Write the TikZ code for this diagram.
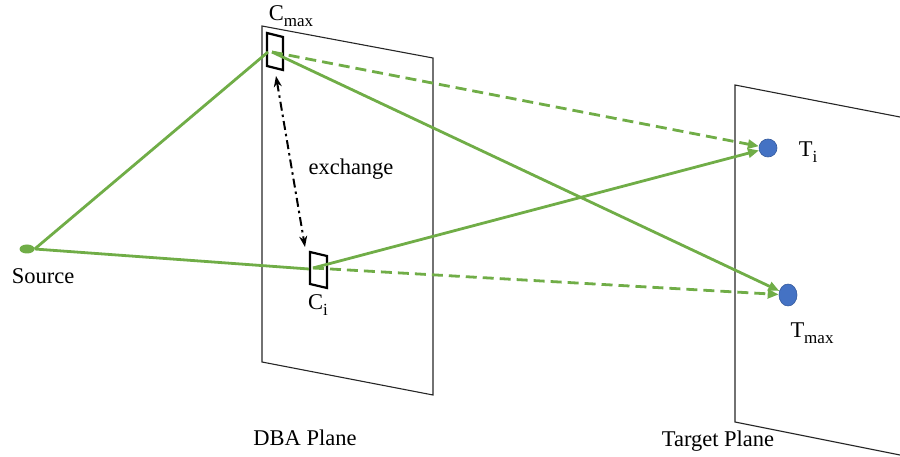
\documentclass[tikz,border=0pt]{standalone}
\usepackage{fontspec}
\setmainfont{Liberation Serif}
\usetikzlibrary{arrows.meta,shapes.geometric}
\definecolor{ray}{HTML}{70AD47}
\definecolor{spot}{HTML}{4472C4}
\definecolor{edge}{HTML}{262626}
\newcommand\lowidx[1]{\raisebox{-0.28em}{\fontsize{17}{20}\selectfont #1}}
\begin{document}
\begin{tikzpicture}[x=1pt,y=-1pt,
  font=\fontsize{22.5}{26}\selectfont,
  plane/.style={draw=edge,line width=1.1pt},
  cell/.style={draw=black,line width=2.2pt,line join=miter},
  ray line/.style={draw=ray,line width=2.8pt},
  beam/.style={ray line,-{Triangle[length=11pt,width=9pt]}},
  beamd/.style={beam,dash pattern=on 11pt off 6pt},
  swap/.style={draw=black,line width=2pt,dash pattern=on 9pt off 4pt on 2.5pt off 4pt,
    {Stealth[length=11pt,width=8pt]}-{Stealth[length=11pt,width=8pt]}},
  label/.style={inner sep=0pt}]
\useasboundingbox (0,0) rectangle (900,457);

% the two planes
\draw[plane] (262,26) -- (433,58) -- (433,395) -- (262,362) -- cycle;
\draw[plane] (900,117) -- (735,85) -- (735,422) -- (900,455);

% cells on the DBA plane
\draw[cell] (267,33) -- (283,37) -- (283,70) -- (267,66) -- cycle;
\draw[cell] (310,252) -- (327,256) -- (327,288) -- (310,284) -- cycle;

% points where the rays meet the cells
\coordinate (cmaxIn) at (268,52);
\coordinate (cmaxOut) at (272,52);
\coordinate (ciIn) at (309,269);
\coordinate (ciOut) at (313,268);
\coordinate (swapTop) at (276,76);
\coordinate (swapBot) at (305,247);

% source and target spots
\node[ellipse,fill=ray,minimum width=15pt,minimum height=9pt,inner sep=0pt] (src) at (27,249) {};
\node[circle,fill=spot,draw=spot!80!black,line width=0.6pt,minimum size=18pt,inner sep=0pt] (ti) at (768,148) {};
\node[ellipse,fill=spot,draw=spot!80!black,line width=0.6pt,minimum width=18pt,minimum height=22pt,inner sep=0pt] (tmax) at (788,295) {};

% rays
\draw[ray line] (src.east) -- (cmaxIn);
\draw[ray line] (src.east) -- (ciIn);
\draw[beam] (cmaxOut) -- (tmax);
\draw[beam] (ciOut) -- (ti);
\draw[beamd] (cmaxOut) -- (ti);
\draw[beamd] (ciOut) -- (tmax);

% exchange of the two cells
\draw[swap] (swapTop) -- (swapBot);

% labels
\node[label] (lsrc) at (43,276) {Source};
\node[label] (lcmax) at (291,16) {C\lowidx{max}};
\node[label] (lci) at (318,305) {C\lowidx{i}};
\node[label] (lti) at (808,152) {T\lowidx{i}};
\node[label] (ltmax) at (812,333) {T\lowidx{max}};
\node[label] (lex) at (351,169) {exchange};
\node[label] (ldba) at (305,438) {DBA Plane};
\node[label] (ltgt) at (718,441) {Target Plane};
\end{tikzpicture}
\end{document}
